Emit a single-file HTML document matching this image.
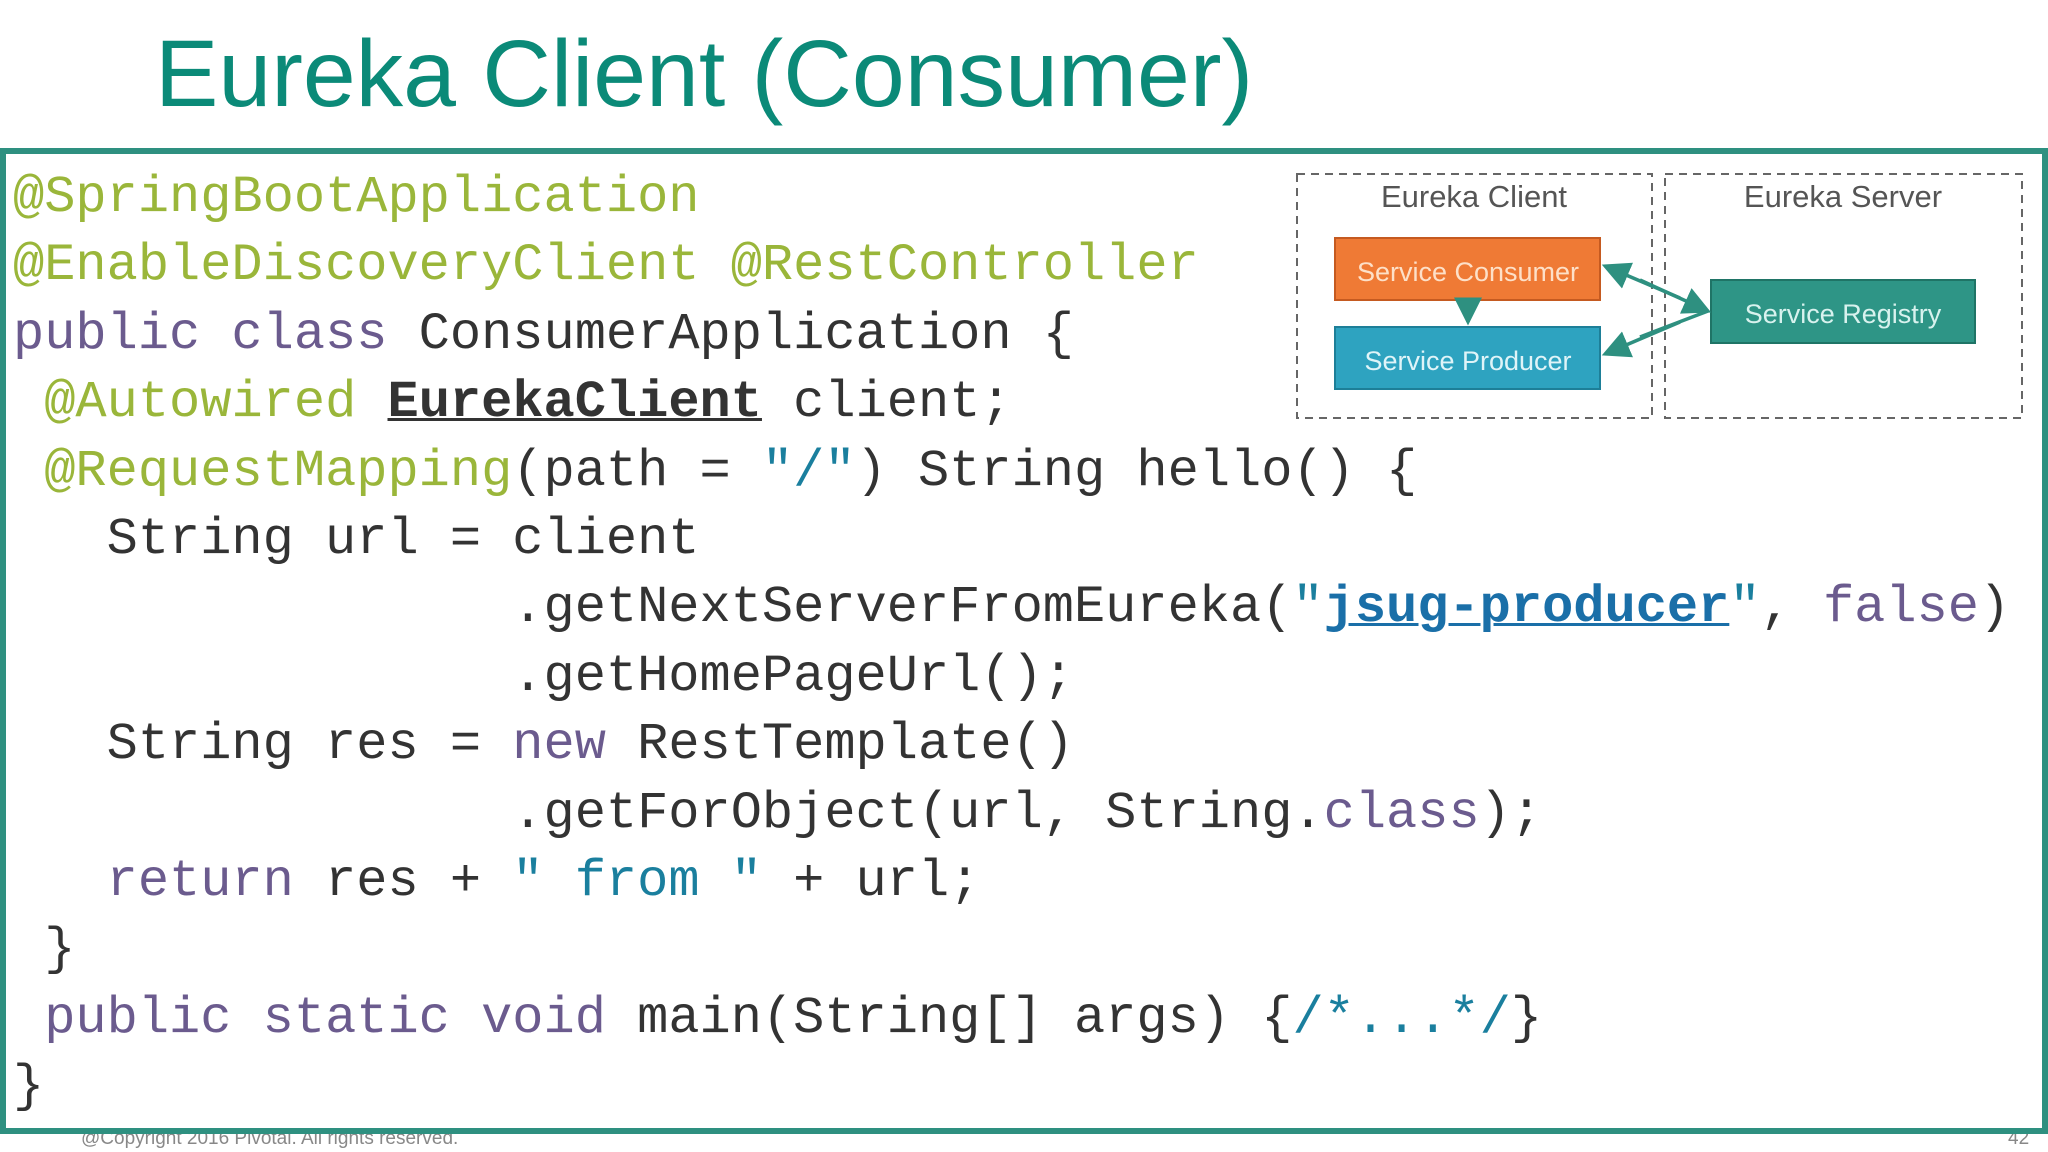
<!DOCTYPE html>
<html><head><meta charset="utf-8"><style>
body{margin:0;width:2048px;height:1152px;background:#fff;position:relative;overflow:hidden;font-family:"Liberation Sans",sans-serif}
.title{position:absolute;left:155px;top:20px;font-size:95px;color:#0b8a78;white-space:nowrap}
.frame{position:absolute;left:0;top:148px;width:2036px;height:974px;border:6px solid #2e9080;}
pre{position:absolute;left:13px;top:164px;margin:0;font-family:"Liberation Mono",monospace;font-size:52px;line-height:68.4px;color:#333}
.a{color:#9ab63a}.k{color:#6b5b8e}.s{color:#1a7f9e}.u{text-decoration:underline;text-decoration-thickness:3px}
.foot{position:absolute;left:81px;top:1128px;font-size:19px;color:#888}
.pg{position:absolute;left:2008px;top:1128px;font-size:19px;color:#888}
</style></head><body>
<div class="title">Eureka Client (Consumer)</div>
<div class="foot">@Copyright 2016 Pivotal. All rights reserved.</div>
<div class="pg">42</div>
<div class="frame"></div>
<pre><span class="a">@SpringBootApplication</span>
<span class="a">@EnableDiscoveryClient @RestController</span>
<span class="k">public class</span> ConsumerApplication {
 <span class="a">@Autowired</span> <b class="u">EurekaClient</b> client;
 <span class="a">@RequestMapping</span>(path = <span class="s">"/"</span>) String hello() {
   String url = client
                .getNextServerFromEureka(<span class="s">"<b class="u" style="color:#1a6fa8">jsug-producer</b>"</span>, <span class="k">false</span>)
                .getHomePageUrl();
   String res = <span class="k">new</span> RestTemplate()
                .getForObject(url, String.<span class="k">class</span>);
   <span class="k">return</span> res + <span class="s">" from "</span> + url;
 }
 <span class="k">public static void</span> main(String[] args) {<span class="s">/*...*/</span>}
}</pre>
<svg style="position:absolute;left:0;top:0" width="2048" height="1152">
<g fill="#fff" stroke="#666" stroke-width="2" stroke-dasharray="8,6">
<rect x="1297" y="174" width="355" height="244"/>
<rect x="1665" y="174" width="357" height="244"/>
</g>
<text x="1474" y="207" font-size="31" fill="#555" text-anchor="middle" font-family="Liberation Sans">Eureka Client</text>
<text x="1843" y="207" font-size="31" fill="#555" text-anchor="middle" font-family="Liberation Sans">Eureka Server</text>
<rect x="1335" y="238" width="265" height="62" fill="#ef7a35" stroke="#c55a20" stroke-width="2"/>
<rect x="1335" y="327" width="265" height="62" fill="#2ea3c0" stroke="#1d7f98" stroke-width="2"/>
<rect x="1711" y="280" width="264" height="63" fill="#2e9586" stroke="#1f7466" stroke-width="2"/>
<g font-family="Liberation Sans" font-size="27" text-anchor="middle">
<text x="1468" y="281" fill="#fde0c8">Service Consumer</text>
<text x="1468" y="370" fill="#dff4f8">Service Producer</text>
<text x="1843" y="323" fill="#d8f2ee">Service Registry</text>
</g>
<defs><marker id="m" markerWidth="8" markerHeight="8" refX="7" refY="4" orient="auto" markerUnits="strokeWidth"><path d="M0,0L8,4L0,8z" fill="#2e9080"/></marker></defs>
<g stroke="#2e9080" stroke-width="3.5" fill="none">
<line x1="1468" y1="300" x2="1468" y2="322" marker-end="url(#m)"/>
<line x1="1640" y1="280" x2="1708" y2="311" marker-end="url(#m)"/>
<line x1="1680" y1="298" x2="1605" y2="266" marker-end="url(#m)"/>
<line x1="1680" y1="322" x2="1605" y2="354" marker-end="url(#m)"/>
<line x1="1640" y1="337" x2="1708" y2="311"/>
</g>
</svg>
</body></html>
